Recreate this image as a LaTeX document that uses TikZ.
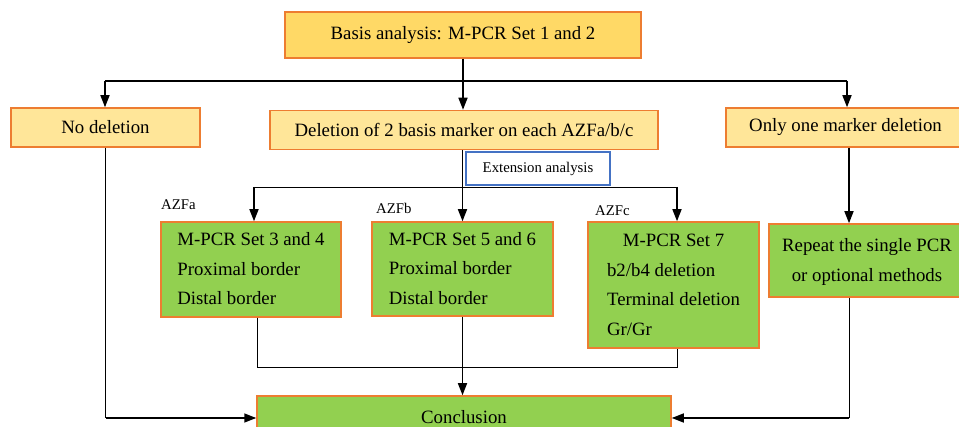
\documentclass[tikz,border=0pt]{standalone}
\usepackage{fontspec}
\setmainfont{Liberation Serif}
\usetikzlibrary{arrows.meta}
\definecolor{gold}{HTML}{FFD966}
\definecolor{lgold}{HTML}{FFE699}
\definecolor{org}{HTML}{ED7D31}
\definecolor{grn}{HTML}{92D050}
\definecolor{blu}{HTML}{4472C4}
\newcommand\bigf{\fontsize{18.8}{29.5}\selectfont}
\newcommand\smf{\fontsize{14.8}{17}\selectfont}
\tikzset{
 box/.style={draw=org, line width=1.5pt, inner sep=0pt, font=\bigf},
 ybox/.style={box, fill=lgold},
 gbox/.style={box, fill=grn},
 lab/.style={font=\smf, inner sep=0pt, anchor=west},
 conn/.style={line width=0.9pt},
 arr/.style={line width=1.5pt, -{Triangle[length=12pt,width=9pt]}},
}
\begin{document}
\begin{tikzpicture}[x=1pt,y=-1pt]
\useasboundingbox (0,0) rectangle (959,427);
\clip (0,0) rectangle (959,427);
\node[box, fill=gold, minimum width=356pt, minimum height=46pt] (top) at (463,35) {Basis analysis: M-PCR Set 1 and 2};
\node[ybox, minimum width=189pt, minimum height=39pt] (nodel) at (105.5,127.5) {No deletion};
\node[ybox, minimum width=388pt, minimum height=39pt] (del2) at (464,130) {Deletion of 2 basis marker on each AZFa/b/c};
\node[ybox, minimum width=239pt, minimum height=39pt] (one) at (845.5,127.5) {Only one marker deletion};
\node[draw=blu, line width=1.2pt, fill=white, minimum width=144pt, minimum height=33pt, font=\smf, inner sep=0pt] (ext) at (538,168.5) {Extension analysis};
\node[gbox, minimum width=180pt, minimum height=95pt] (a) at (251,269.5) {\begin{tabular}{@{}l@{}}M-PCR Set 3 and 4\\Proximal border\\Distal border\end{tabular}};
\node[gbox, minimum width=181pt, minimum height=94pt] (b) at (462.5,269) {\begin{tabular}{@{}l@{}}M-PCR Set 5 and 6\\Proximal border\\Distal border\end{tabular}};
\node[gbox, minimum width=171pt, minimum height=126pt] (c) at (673.5,285) {\raisebox{-2pt}{\begin{tabular}{@{}l@{}}\multicolumn{1}{@{}c@{}}{M-PCR Set 7}\\b2/b4 deletion\\Terminal deletion\\Gr/Gr\end{tabular}}};
\node[gbox, minimum width=196pt, minimum height=73pt] (rep) at (867,260.5) {\begin{tabular}{@{}c@{}}Repeat the single PCR\\or optional methods\end{tabular}};
\node[gbox, minimum width=414pt, minimum height=44pt] (concl) at (464,418) {\raisebox{3pt}{Conclusion}};
\node[lab] (la) at (161,205) {AZFa};
\node[lab] (lb) at (376,208) {AZFb};
\node[lab] (lc) at (595,211) {AZFc};
\coordinate (hl) at (105,81);
\coordinate (hr) at (847,81);
\draw[line width=1.2pt] (hl) -- (hr);
\draw[arr] (top.south) -- (top.south |- del2.north);
\draw[arr] (hl) -- (hl |- nodel.north);
\draw[arr] (hr) -- (hr |- one.north);
\coordinate (el) at (254,187);
\coordinate (er) at (677,187);
\draw[conn] (el) -- (er);
\draw[arr] (el) -- (el |- a.north);
\draw[arr] (er) -- (er |- c.north);
\draw[arr] (b.north |- del2.south) -- (b.north);
\coordinate (rx) at (849,0);
\draw[arr] (rx |- one.south) -- (rx |- rep.north);
\coordinate (bl) at (257,367);
\coordinate (br) at (677,367);
\draw[conn] (bl |- a.south) -- (bl) -- (br) -- (br |- c.south);
\draw[conn] (b.south) -- (b.south |- bl);
\draw[arr] (b.south |- bl) -- (b.south |- concl.north);
\draw[conn] (nodel.south) -- (nodel.south |- concl.west);
\draw[arr] (nodel.south |- concl.west) -- (concl.west);
\draw[conn] (rx |- rep.south) -- (rx |- concl.east);
\draw[arr] (rx |- concl.east) -- (concl.east);
\end{tikzpicture}
\end{document}
